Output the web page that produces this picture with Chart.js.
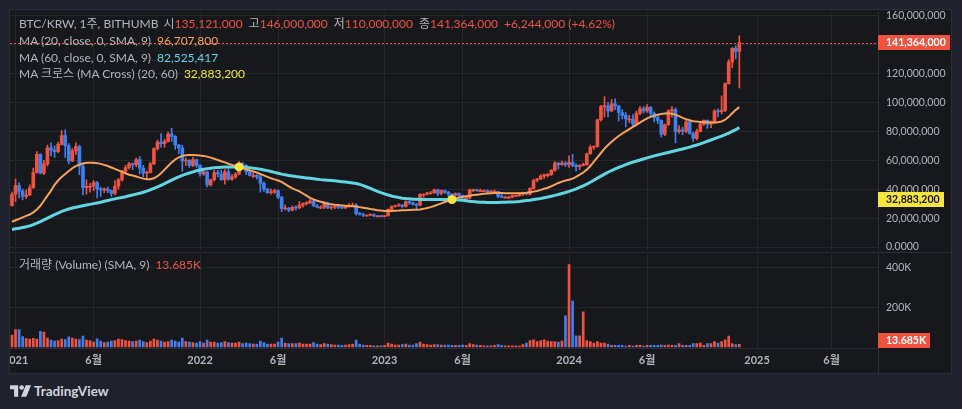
<!DOCTYPE html>
<html><head><meta charset="utf-8">
<script src="https://cdn.jsdelivr.net/npm/chart.js@4/dist/chart.umd.min.js"></script>
<style>
*{box-sizing:border-box}
html,body{margin:0;padding:0}
body{width:962px;height:409px;background:#1f222c;position:relative;overflow:hidden;font-family:Lato,"Noto Sans CJK KR",sans-serif}
#pane{position:absolute;left:9px;top:9px;width:943px;height:365px;background:#17181b;border:1px solid #2b2e37}
.wrap{position:absolute;overflow:hidden}
#w1{left:10px;top:10px;width:941px;height:242px}
#w2{left:10px;top:252px;width:941px;height:121px}
canvas{position:absolute;left:-30px;top:-12px}
.hl{position:absolute;height:1px;background:#2b2e37}
.vl{position:absolute;width:1px;background:#2b2e37}
.lg{position:absolute;left:19px;font-size:12px;color:#b2b5be;white-space:pre;line-height:16.8px}
.r{color:#ef5340}.o{color:#f7a35c}.c{color:#62d5e3}.y{color:#f5e53d}
.g{margin-left:5px}
.v{margin-left:6px}
#logo{position:absolute;left:10px;top:383px;height:16px;display:flex;align-items:center;color:#d1d4dc;font-weight:700;font-size:13.5px}
</style></head>
<body>
<div id="pane"></div>
<div class="wrap" id="w1"><canvas id="c1" width="971" height="266"></canvas></div>
<div class="wrap" id="w2"><canvas id="c2" width="971" height="133"></canvas></div>
<div class="hl" style="left:10px;top:252px;width:941px"></div>
<div class="vl" style="left:878px;top:348px;height:25px"></div>
<div class="lg" id="lg1" style="top:16px"></div>
<div class="lg" id="lg2" style="top:257px"></div>
<div id="logo"><svg width="21" height="12" viewBox="0 0 36 20" style="margin-right:3px"><path d="M0 0h14v20H7V7H0z" fill="#d1d4dc"/><circle cx="20" cy="4" r="4" fill="#d1d4dc"/><path d="M27 0h9l-8 20h-9z" fill="#d1d4dc"/></svg>TradingView</div>
<script>
// ---- data (prices in million KRW, volume in thousand) ----
const firstWeek = '2020-12-28'; // week index 0
const open = [
28.6,36.5,42.5,38.5,35.0,36.0,41.0,51.5,64.0,51.0,
57.5,68.5,67.0,66.0,71.0,77.0,70.0,59.5,66.5,69.5,
56.0,41.0,42.0,42.0,44.5,40.0,39.5,40.0,39.0,37.0,
42.0,46.5,52.5,55.0,57.5,57.0,60.5,54.5,51.0,51.5,
57.5,68.0,72.5,71.5,73.0,78.0,76.5,70.5,68.5,59.5,
60.0,56.5,60.5,56.5,50.5,52.0,43.0,46.5,51.5,50.5,
46.5,52.0,47.0,48.5,50.5,57.5,56.5,52.0,49.5,49.5,
48.5,44.0,40.0,37.5,38.0,39.0,34.5,26.5,27.0,25.5,
27.5,27.0,29.0,30.0,30.5,32.0,28.5,27.5,27.5,30.5,
27.0,27.5,28.0,27.5,27.0,28.0,29.0,29.0,23.0,22.5,
22.0,22.0,22.5,21.5,21.5,21.0,21.5,26.0,28.0,28.5,
29.0,28.0,31.5,30.5,29.5,29.0,36.5,36.5,37.5,37.5,
39.5,37.0,39.0,38.0,36.5,36.0,37.0,35.5,34.0,34.0,
39.5,39.5,39.0,39.0,39.0,38.0,38.5,38.5,35.0,34.5,
34.5,34.5,35.5,35.5,36.5,37.5,36.5,40.5,46.0,47.0,
49.0,50.0,50.0,53.0,58.0,57.0,58.0,57.0,58.5,56.5,
55.5,56.5,57.0,64.5,69.0,69.5,88.0,97.0,97.5,94.0,
99.0,97.5,93.0,91.0,88.5,88.5,85.0,92.5,95.5,94.0,
96.5,92.5,89.5,87.5,78.0,84.5,94.0,95.0,80.0,81.0,
80.0,86.5,78.5,75.0,80.0,85.0,87.5,85.0,86.0,94.0,
93.5,94.5,113.0,128.0,137.5,135.121];
const high = [
38.0,47.0,44.5,40.0,39.5,43.0,54.5,66.0,64.5,60.0,
70.5,72.0,70.0,72.5,80.5,81.0,71.5,68.0,72.0,70.5,
57.5,46.5,44.0,46.0,45.5,41.5,41.0,41.5,39.5,46.0,
47.5,53.0,56.5,58.5,58.0,61.5,62.5,56.5,52.5,58.5,
68.5,74.0,78.5,74.5,79.5,82.0,77.0,71.0,70.5,61.5,
60.5,62.0,61.0,57.0,53.0,52.5,47.0,53.0,53.0,53.0,
53.5,54.0,50.0,51.5,59.0,58.5,57.0,52.5,52.0,50.0,
49.5,45.0,40.5,40.0,40.0,39.5,35.0,29.0,27.5,28.5,
28.5,31.5,30.5,31.5,33.0,32.5,29.5,28.5,31.5,31.0,
28.5,28.5,29.0,28.0,28.5,30.0,30.5,30.0,24.0,23.5,
22.5,23.0,23.0,22.0,21.8,22.0,26.5,28.5,29.0,30.0,
29.5,32.0,32.0,31.0,30.0,37.0,37.0,38.0,38.5,40.0,
40.0,39.5,39.5,38.5,37.0,37.5,37.5,36.0,34.5,40.0,
40.0,40.0,40.0,39.5,39.5,39.0,39.5,38.5,36.5,35.0,
35.0,36.0,36.0,37.5,38.0,38.0,41.0,47.0,47.5,50.0,
50.5,51.0,53.5,59.0,58.5,59.5,59.0,63.0,64.0,57.5,
57.0,58.0,65.0,70.5,70.0,88.5,98.0,104.0,100.0,102.0,
102.5,98.0,95.0,93.0,91.0,91.5,94.0,97.0,97.0,98.5,
97.0,93.5,91.0,88.0,85.0,95.0,97.0,96.0,84.0,83.0,
87.5,87.0,79.5,81.5,85.5,88.0,88.0,87.0,95.0,95.5,
104.5,113.5,129.5,137.5,139.0,146.0];
const low = [
28.2,31.5,34.0,32.5,33.5,35.5,40.5,51.0,50.5,50.0,
56.0,63.0,62.0,65.0,70.5,62.0,57.5,59.0,64.0,50.0,
36.0,36.5,38.0,39.0,34.0,35.0,37.5,37.5,35.0,36.0,
40.0,45.5,51.5,54.0,53.5,55.5,50.5,48.5,47.5,51.0,
57.0,67.0,69.0,69.0,72.5,73.0,67.5,64.5,52.5,56.5,
55.0,55.5,55.0,49.0,49.5,41.5,42.0,45.5,48.5,46.0,
43.5,46.0,46.0,47.5,50.0,54.5,50.0,49.0,48.0,47.0,
38.0,38.5,37.0,36.5,37.0,33.5,24.5,25.5,24.5,25.0,
25.5,26.5,27.5,29.0,30.0,28.0,27.0,26.5,26.5,26.5,
26.0,26.5,26.5,26.5,26.5,27.5,28.0,22.0,22.0,21.0,
21.5,21.5,21.0,21.0,20.8,20.8,21.5,25.5,27.5,28.0,
27.0,27.5,29.5,29.0,26.0,28.5,34.5,36.0,36.5,37.0,
35.5,36.0,37.0,35.0,35.5,35.5,35.0,33.0,33.0,33.5,
38.5,38.5,38.5,38.5,37.5,37.5,38.0,34.0,34.0,34.0,
33.5,34.0,35.0,35.0,35.5,36.0,36.0,40.0,45.0,46.5,
47.5,48.5,49.5,52.5,54.0,56.5,55.5,55.0,55.5,52.5,
53.5,56.0,56.5,64.0,67.5,69.0,87.0,90.0,90.0,93.5,
95.0,87.0,88.5,83.0,86.0,83.5,84.5,91.5,92.5,93.0,
90.0,86.5,85.5,76.0,77.0,84.0,90.0,72.0,78.5,77.5,
79.0,78.0,73.0,74.0,79.5,84.0,82.0,82.5,85.5,90.0,
92.0,93.5,112.5,124.0,130.0,110.0];
const close = [
36.5,42.5,38.5,35.0,36.0,41.0,51.5,64.0,51.0,57.5,
68.5,67.0,66.0,71.0,77.0,70.0,59.5,66.5,69.5,56.0,
41.0,42.0,42.0,44.5,40.0,39.5,40.0,39.0,37.0,42.0,
46.5,52.5,55.0,57.5,57.0,60.5,54.5,51.0,51.5,57.5,
68.0,72.5,71.5,73.0,78.0,76.5,70.5,68.5,59.5,60.0,
56.5,60.5,56.5,50.5,52.0,43.0,46.5,51.5,50.5,46.5,
52.0,47.0,48.5,50.5,57.5,56.5,52.0,49.5,49.5,48.5,
44.0,40.0,37.5,38.0,39.0,34.5,26.5,27.0,25.5,27.5,
27.0,29.0,30.0,30.5,32.0,28.5,27.5,27.5,30.5,27.0,
27.5,28.0,27.5,27.0,28.0,29.0,29.0,23.0,22.5,22.0,
22.0,22.5,21.5,21.5,21.0,21.5,26.0,28.0,28.5,29.0,
28.0,31.5,30.5,29.5,29.0,36.5,36.5,37.5,37.5,39.5,
37.0,39.0,38.0,36.5,36.0,37.0,35.5,34.0,34.0,39.5,
39.5,39.0,39.0,39.0,38.0,38.5,38.5,35.0,34.5,34.5,
34.5,35.5,35.5,36.5,37.5,36.5,40.5,46.0,47.0,49.0,
50.0,50.0,53.0,58.0,57.0,58.0,57.0,58.5,56.5,55.5,
56.5,57.0,64.5,69.0,69.5,88.0,97.0,97.5,94.0,99.0,
97.5,93.0,91.0,88.5,88.5,85.0,92.5,95.5,94.0,96.5,
92.5,89.5,87.5,78.0,84.5,94.0,95.0,80.0,81.0,80.0,
86.5,78.5,75.0,80.0,85.0,87.5,85.0,86.0,94.0,93.5,
94.5,113.0,128.0,137.5,135.12,141.364];
const volume = [
60,88,88,53,43,40,44,40,80,75,
45,35,30,32,40,38,52,45,40,38,
55,35,32,25,42,30,22,25,30,32,
40,38,32,30,28,30,35,28,22,30,
40,35,30,25,28,35,30,25,45,28,
25,22,20,28,20,35,25,25,20,22,
28,22,20,20,25,18,20,18,15,15,
30,22,15,15,15,25,45,20,18,18,
18,20,15,15,15,22,15,12,18,15,
12,10,10,8,10,12,15,35,15,10,
8,8,6,6,6,8,20,15,10,10,
12,15,10,10,18,25,15,12,10,12,
12,10,10,10,8,8,8,10,8,18,
12,10,8,6,6,6,8,12,8,6,
6,6,6,5,12,20,33,37,27,32,
37,30,27,27,25,30,158,417,232,56,
56,178,33,27,20,27,20,20,15,8,
8,8,8,5,8,5,8,8,5,8,
8,8,8,10,8,10,8,8,17,8,
8,8,17,17,20,8,17,17,27,20,
27,37,55,17,12,13.685];
const ma20 = [
17.5,18.5,19.5,20.5,21.5,22.5,24,26,28.5,32,
35.5,39,43,46,48.5,50.5,52.5,54.5,56,57,
57.8,58.2,58.3,58.2,58,57.5,56.8,56,55,54,
53,52,51,50,49.5,48.8,48,47.3,46.8,46.8,
47.5,49,51,53.5,56,58.5,60.5,62,63,63.5,
63.7,63.7,63.5,63.2,63,62.5,61.8,61,60.2,59.3,
58.5,57.6,56.8,56,55.2,54.5,53.8,53,52.3,51.5,
50.5,49.5,48.5,47.5,46.8,46,45,43.5,42,40.5,
39.5,38.5,37,35.5,34,33,32,31.3,30.6,30,
29.5,29.2,29,28.8,28.5,28.3,28.2,28,27.6,27.2,
26.8,26.3,25.9,25.5,25.2,25,25,25,25.1,25.2,
25.4,25.5,25.6,25.7,25.8,26,26.4,27,27.6,28.4,
29.3,30.2,31.1,32,32.9,33.6,34.2,34.7,35.1,35.5,
35.9,36.2,36.5,36.8,37,37.2,37.3,37.3,37.3,37.2,
37.2,37.1,37.1,37.2,37.3,37.5,37.8,38.3,38.8,39.5,
40.3,41,42,43.2,44.3,45.2,46,46.5,47.3,48.5,
50,51.5,53.5,56,59,62,65,68,70.5,72.8,
74.8,76.8,78.5,80,81.5,83,84.5,86,87.5,89,
90,90.8,91.5,92,92.3,92.4,92.2,91.5,90.5,89.3,
88.4,87.6,87,86.7,86.5,86.3,86.2,86.1,86.1,86.3,
86.8,88,90,92.5,94.8,96.7078];
const ma60 = [
12.2,12.6,13,13.5,14,14.6,15.5,16.5,17.6,18.8,
20,21.2,22.4,23.5,24.6,25.5,26.3,27,27.5,28,
28.5,29,29.5,30,30.5,31,31.6,32.2,32.8,33.3,
33.8,34.3,34.8,35.4,36,36.6,37.2,37.9,38.7,39.6,
40.6,41.6,42.7,43.8,45,46.2,47.4,48.5,49.5,50.4,
51.2,52,52.7,53.3,53.8,54.2,54.5,54.8,55,55.2,
55.3,55.4,55.4,55.3,55.2,55.1,55,54.8,54.5,54.2,
53.8,53.3,52.8,52.2,51.6,51,50.4,49.9,49.5,49.1,
48.7,48.4,48.1,47.8,47.5,47.2,46.9,46.6,46.4,46.2,
46,45.8,45.5,45.2,44.9,44.6,44.3,43.9,43.3,42.5,
41.5,40.5,39.5,38.5,37.6,36.8,36,35.3,34.7,34.2,
33.8,33.5,33.3,33.1,33,32.9,32.8,32.8,32.8,32.8,
32.8,32.8,32.8,32.8,32.85,32.7,32.5,32.3,32,31.7,
31.4,31.2,31,30.9,30.8,30.8,30.8,30.8,30.9,31,
31.1,31.2,31.3,31.5,31.8,32.1,32.4,32.8,33.2,33.6,
34.1,34.6,35.1,35.7,36.3,37,37.7,38.5,39.3,40.2,
41.2,42.3,43.5,44.8,46.2,47.6,49,50.4,51.7,52.9,
54,55,56,57,57.9,58.7,59.5,60.2,60.9,61.6,
62.3,63,63.6,64.2,64.8,65.4,66,66.6,67.2,67.8,
68.4,69.1,69.8,70.5,71.3,72.2,73.1,74,74.9,75.8,
76.7,77.7,78.8,80,81.2,82.525417];
const crossWeek = [64, 124];
const crossValue = [55.4, 32.8832];
const timeTickWeeks = [1, 23, 53, 75, 105, 127, 157, 179, 210, 231];
const timeTickLabels = ['2021','6월','2022','6월','2023','6월','2024','6월','2025','6월'];
const priceTicks = [0,20,40,60,80,100,120,140,160];
const volumeTicks = [200,400];

// ---- style ----
const UP='#ef5340', DOWN='#3f7ff0', MA20C='#f7a35c', MA60C='#62d5e3', CROSSC='#f5e53d';
const GRID='#26272b', AXIS='#2b2e37', TXT='#b2b5be';
const FONT='Lato, "Noto Sans CJK KR", sans-serif';
Chart.defaults.font.family = FONT;

const XMIN = -0.5637, XMAX = XMIN + 868/3.548;
const weeks = close.map((_, i) => i);
const candleColor = weeks.map(i => close[i] >= open[i] ? UP : DOWN);
const n = close.length - 1;
const fmt = v => Math.round(v*1e6).toLocaleString('en-US');

function axisBox(chart, yPix, text, bg, fg) {
  const {ctx, chartArea} = chart;
  ctx.save();
  ctx.font = 'bold 10.5px ' + FONT;
  const w = Math.round(ctx.measureText(text).width) + 12, h = 15;
  let top = Math.round(yPix - h/2);
  top = Math.max(chartArea.top, Math.min(chartArea.bottom - h, top));
  ctx.fillStyle = bg; ctx.fillRect(chartArea.right, top, w, h);
  ctx.fillStyle = fg; ctx.textBaseline = 'middle'; ctx.textAlign = 'left';
  ctx.fillText(text, chartArea.right + 8, top + h/2 + 0.5);
  ctx.restore();
}

const pricePlugin = {
  id: 'priceOverlay',
  beforeDatasetsDraw(chart) {
    const {ctx, chartArea, scales} = chart;
    const py = Math.round(scales.y.getPixelForValue(close[n])) + 0.5;
    ctx.save(); ctx.strokeStyle = UP; ctx.lineWidth = 1; ctx.setLineDash([2,2]);
    ctx.beginPath(); ctx.moveTo(chartArea.left, py); ctx.lineTo(chartArea.right, py); ctx.stroke();
    ctx.restore();
  },
  afterDraw(chart) {
    const y = chart.scales.y;
    const cv = crossValue[crossValue.length-1];
    axisBox(chart, y.getPixelForValue(close[n]), fmt(close[n]), UP, '#ffffff');
    axisBox(chart, y.getPixelForValue(cv), fmt(cv), CROSSC, '#131313');
  }
};
const volPlugin = {
  id: 'volOverlay',
  afterDraw(chart) {
    axisBox(chart, chart.scales.y.getPixelForValue(volume[n]), volume[n].toFixed(3) + 'K', UP, '#ffffff');
  }
};

const xScale = (extra) => Object.assign({
  type:'linear', min:XMIN, max:XMAX, offset:false,
  grid:{color:GRID, drawTicks:false, offset:false},
  afterBuildTicks: s => { s.ticks = timeTickWeeks.map(v => ({value:v})); }
}, extra);

new Chart(document.getElementById('c1'), {
  type:'bar',
  data:{datasets:[
    {type:'line', data:crossWeek.map((w,k)=>({x:w,y:crossValue[k]})), showLine:false, pointRadius:4.5, pointBackgroundColor:CROSSC, pointBorderWidth:0, order:0},
    {type:'line', data:weeks.map(i=>({x:i,y:ma20[i]})), borderColor:MA20C, borderWidth:2, pointRadius:0, order:1},
    {type:'line', data:weeks.map(i=>({x:i,y:ma60[i]})), borderColor:MA60C, borderWidth:3, pointRadius:0, order:2},
    {type:'bar', data:weeks.map(i=>({x:i,y:[open[i],close[i]]})), backgroundColor:candleColor, barThickness:3, minBarLength:1, grouped:false, order:3},
    {type:'bar', data:weeks.map(i=>({x:i,y:[low[i],high[i]]})), backgroundColor:candleColor, barThickness:1, grouped:false, order:4}
  ]},
  options:{
    responsive:false, animation:false, devicePixelRatio:1,
    layout:{padding:{left:30, top:12, bottom:12, right:0}},
    plugins:{legend:{display:false}, tooltip:{enabled:false}},
    scales:{
      x: xScale({border:{display:false}, ticks:{display:false}}),
      y:{type:'linear', position:'right', min:-1.83, max:162.24,
         grid:{color:GRID, drawTicks:false}, border:{display:true, color:AXIS},
         ticks:{color:TXT, font:{size:10.5}, padding:8, autoSkip:false,
                callback:v => v === 0 ? '0.0000' : fmt(v)},
         afterBuildTicks:s => { s.ticks = priceTicks.map(v => ({value:v})); },
         afterFit:s => { s.width = 73; }}
    }
  },
  plugins:[pricePlugin]
});

new Chart(document.getElementById('c2'), {
  type:'bar',
  data:{datasets:[
    {data:weeks.map(i=>({x:i,y:volume[i]})), backgroundColor:candleColor, barThickness:2, grouped:false}
  ]},
  options:{
    responsive:false, animation:false, devicePixelRatio:1,
    layout:{padding:{left:30, top:12, bottom:0, right:0}},
    plugins:{legend:{display:false}, tooltip:{enabled:false}},
    scales:{
      x: xScale({border:{display:true, color:AXIS},
         ticks:{color:TXT, font:{size:11, weight:'bold'}, padding:6, maxRotation:0, autoSkip:false,
                callback:v => { const k = timeTickWeeks.indexOf(v); return k >= 0 ? timeTickLabels[k] : ''; }},
         afterFit:s => { s.height = 25; }}),
      y:{type:'linear', position:'right', min:-4.94, max:469.1,
         grid:{color:GRID, drawTicks:false}, border:{display:true, color:AXIS},
         ticks:{color:TXT, font:{size:10.5}, padding:8, autoSkip:false, callback:v => v + 'K'},
         afterBuildTicks:s => { s.ticks = volumeTicks.map(v => ({value:v})); },
         afterFit:s => { s.width = 73; }}
    }
  },
  plugins:[volPlugin]
});

// ---- legends ----
const chg = close[n] - close[n-1];
const pct = chg / close[n-1] * 100;
const sign = chg >= 0 ? '+' : '-';
document.getElementById('lg1').innerHTML =
  'BTC/KRW, 1주, BITHUMB<span class="g">시</span><span class="r">' + fmt(open[n]) + '</span>' +
  '<span class="v">고</span><span class="r">' + fmt(high[n]) + '</span>' +
  '<span class="v">저</span><span class="r">' + fmt(low[n]) + '</span>' +
  '<span class="v">종</span><span class="r">' + fmt(close[n]) + '</span>' +
  '<span class="r v">' + sign + fmt(Math.abs(chg)) + ' (' + sign + pct.toFixed(2) + '%)</span>\n' +
  'MA (20, close, 0, SMA, 9)<span class="o v">' + fmt(ma20[n]) + '</span>\n' +
  'MA (60, close, 0, SMA, 9)<span class="c v">' + Math.round(ma60[n]*1e6).toLocaleString('en-US') + '</span>\n' +
  'MA 크로스 (MA Cross) (20, 60)<span class="y v">' + fmt(crossValue[crossValue.length-1]) + '</span>';
document.getElementById('lg2').innerHTML =
  '거래량 (Volume) (SMA, 9)<span class="r v">' + volume[n].toFixed(3) + 'K</span>';
</script>
</body></html>
